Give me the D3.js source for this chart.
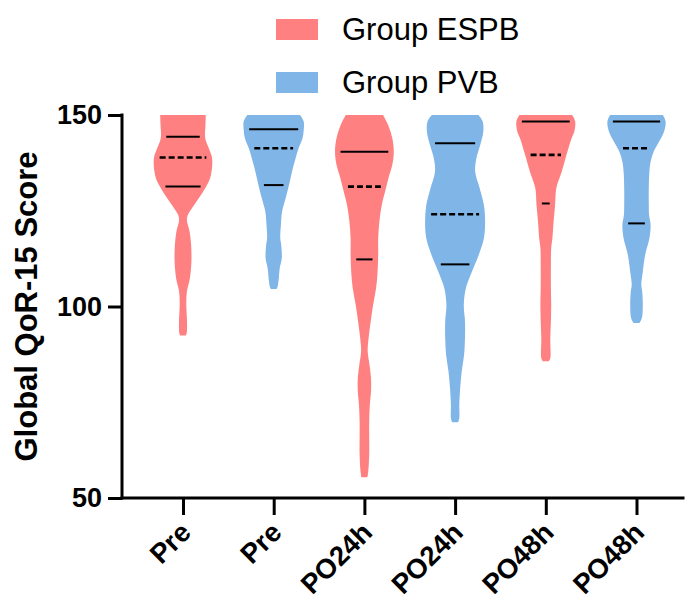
<!DOCTYPE html>
<html>
<head>
<meta charset="utf-8">
<script src="https://cdn.jsdelivr.net/npm/d3@7"></script>
<style>
  body { margin: 0; background: #fff; }
  svg { display: block; font-family: Arial, "Liberation Sans", sans-serif; }
</style>
</head>
<body>
<div id="chart"></div>
<script>
// Plot constants
const WIDTH = 689;
const HEIGHT = 603;

// Data
const groups = ["Group ESPB", "Group PVB"];
const groupColors = ["#ff8080", "#80b5e8"];
const timepoints = ["Pre", "Pre", "PO24h", "PO24h", "PO48h", "PO48h"];
const groupOf = [0, 1, 0, 1, 0, 1];
const yTicks = [50, 100, 150];

// violin outlines: [score, relative density]
const espbPre = [[150, .76], [147.5, .75], [144, .74], [141.5, .85], [138.7, .97], [134.3, .93], [131.7, .8],
  [129.1, .6], [126.5, .37], [124, .17], [122.6, .13], [119.6, .22], [116.1, .27], [111.7, .28], [107.4, .23],
  [103.9, .13], [100.4, .11], [97, .13], [93.5, .13], [92.4, .1]];
const pvbPre = [[150, .88], [148.3, 1.0], [146.1, 1.0], [143.9, .96], [141.3, .83], [138.7, .73], [135.2, .61],
  [131.7, .51], [128.3, .4], [124.8, .28], [121.3, .24], [117.8, .22], [116.1, .25], [112.6, .27], [110, .2],
  [107.4, .17], [105.2, .13], [104.6, .1]];
const espb24 = [[150, .62], [147.4, .79], [143.9, .93], [140.4, .98], [137, .93], [133.5, .8], [130, .69],
  [126.5, .58], [122.2, .5], [117.8, .46], [113.5, .46], [109.1, .44], [104.8, .39], [100.4, .29], [96.1, .21],
  [91.7, .14], [88.3, .11], [84.8, .17], [81.3, .22], [77.8, .22], [74.3, .18], [70, .16], [65.7, .16],
  [61.3, .16], [57, .13], [55.4, .1]];
const pvb24 = [[150, .78], [148.3, .92], [145.7, .94], [142.2, .84], [138.7, .71], [135.2, .67], [130.9, .82],
  [126.5, .96], [122.2, 1.0], [117.8, .96], [113.5, .79], [109.1, .56], [104.8, .36], [100.4, .29], [96.1, .33],
  [91.7, .33], [87.4, .3], [83, .22], [78.7, .17], [74.3, .14], [70.9, .14], [69.8, .1]];
const espb48 = [[150, .88], [148.3, .98], [145.7, .95], [143.9, .86], [139.6, .69], [135.2, .53], [130.9, .35],
  [126.5, .31], [122.2, .26], [117.8, .22], [115.2, .18], [110.9, .17], [104.8, .17], [100.4, .18], [96.1, .17],
  [91.7, .15], [86.5, .15], [85.7, .1]];
const pvb48 = [[150, .88], [148.3, .97], [145.7, .92], [143, .75], [140.4, .57], [137.8, .47], [135.2, .43],
  [130.9, .41], [126.5, .41], [123.9, .42], [121.3, .47], [117.8, .43], [113.5, .29], [109.1, .21], [105.7, .16],
  [103.9, .19], [100.4, .21], [97, .18], [95.7, .1]];
const violins = [espbPre, pvbPre, espb24, pvb24, espb48, pvb48];

// quartiles per violin
const q3 = [144.3, 146.3, 140.4, 142.6, 148.3, 148.3];
const medians = [138.9, 141.3, 131.3, 124.1, 139.6, 141.3];
const q1 = [131.3, 131.7, 112.3, 111, 126.9, 121.7];

const svg = d3.select("#chart").append("svg")
  .attr("width", WIDTH)
  .attr("height", HEIGHT);

// Scales
const x = d3.scalePoint().domain(d3.range(timepoints.length)).range([183, 636.5]);
const y = d3.scaleLinear().domain([50, 150]).range([498, 115]);
const w = d3.scaleLinear().domain([0, 1]).range([0, 30]);

// Violins
const area = (cx) => d3.area()
  .y(d => y(d[0]))
  .x0(d => cx - w(d[1]))
  .x1(d => cx + w(d[1]))
  .curve(d3.curveCatmullRom.alpha(0.5));

svg.append("g").selectAll("path")
  .data(violins)
  .join("path")
  .attr("d", (d, i) => area(x(i))(d))
  .attr("fill", (d, i) => groupColors[groupOf[i]]);

// quartile + median lines, a bit shorter than the violin at that score
const lineData = [];
violins.forEach((v, i) => {
  const dens = d3.scaleLinear().domain(v.map(p => p[0])).range(v.map(p => p[1]));
  [[q3[i], false], [medians[i], true], [q1[i], false]].forEach(([s, dashed]) => {
    lineData.push({i, s, dashed, half: Math.max(w(dens(s)) - 5.5, 3)});
  });
});

svg.append("g").selectAll("line")
  .data(lineData)
  .join("line")
  .attr("x1", d => x(d.i) - d.half)
  .attr("x2", d => x(d.i) + d.half)
  .attr("y1", d => y(d.s))
  .attr("y2", d => y(d.s))
  .attr("stroke", "#000")
  .attr("stroke-width", d => d.dashed ? 2.6 : 2)
  .attr("stroke-dasharray", d => d.dashed ? "6,3" : null);

// Axes
const yAxis = svg.append("g")
  .attr("transform", "translate(122,0)")
  .call(d3.axisLeft(y).tickValues(yTicks).tickSize(14).tickSizeOuter(0).tickPadding(6));
yAxis.select(".domain").remove();
yAxis.selectAll("line").attr("stroke-width", 3);
yAxis.selectAll("text")
  .attr("font-size", 27)
  .attr("font-weight", "bold")
  .attr("font-family", "Arial, 'Liberation Sans', sans-serif")
  .attr("fill", "#000");

const xAxis = svg.append("g")
  .attr("transform", "translate(0,498)")
  .call(d3.axisBottom(x).tickSize(17).tickSizeOuter(0).tickFormat(i => timepoints[i]));
xAxis.select(".domain").remove();
xAxis.selectAll("line").attr("stroke-width", 3);
xAxis.selectAll("text")
  .attr("font-size", 27.5)
  .attr("font-weight", "bold")
  .attr("font-family", "Arial, 'Liberation Sans', sans-serif")
  .attr("fill", "#000")
  .attr("text-anchor", "end")
  .attr("dy", null)
  .attr("y", 0)
  .attr("transform", "translate(9,36) rotate(-45)");

// axis lines
svg.append("line")
  .attr("x1", 122).attr("x2", 122)
  .attr("y1", y(150)).attr("y2", y(50))
  .attr("stroke", "#000").attr("stroke-width", 3).attr("stroke-linecap", "square");
svg.append("line")
  .attr("x1", 122).attr("x2", 683)
  .attr("y1", y(50)).attr("y2", y(50))
  .attr("stroke", "#000").attr("stroke-width", 3).attr("stroke-linecap", "square");

// Y label
svg.append("text")
  .attr("transform", `translate(37,${y(100)}) rotate(-90)`)
  .attr("text-anchor", "middle")
  .attr("font-size", 31)
  .attr("font-weight", "bold")
  .text("Global QoR-15 Score");

// Legend
const legend = svg.append("g").selectAll("g")
  .data(groups)
  .join("g")
  .attr("transform", (d, i) => `translate(276,${19 + i * 53})`);
legend.append("rect")
  .attr("width", 42)
  .attr("height", 21)
  .attr("fill", (d, i) => groupColors[i]);
legend.append("text")
  .attr("x", 66)
  .attr("y", 21)
  .attr("font-size", 31)
  .text(d => d);
</script>
</body>
</html>
